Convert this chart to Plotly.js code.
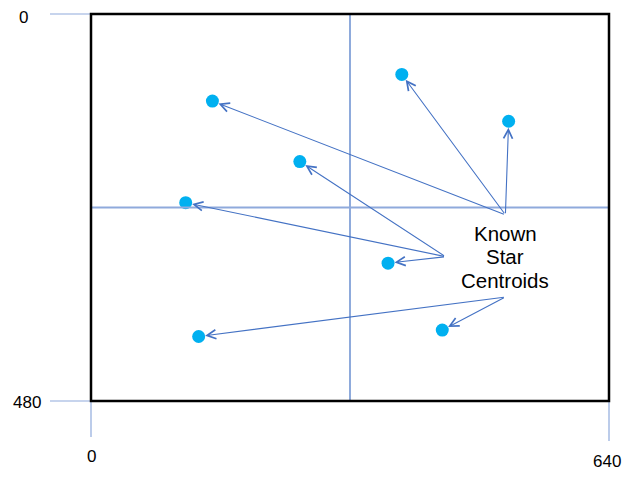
<!DOCTYPE html>
<html>
<head>
<meta charset="utf-8">
<script src="https://cdn.plot.ly/plotly-3.0.1.min.js"></script>
<style>html,body{margin:0;padding:0;background:#fff;}#chart{width:626px;height:477px;}</style>
</head>
<body>
<div id="chart"></div>
<script>
// Image frame (pixels of a 640x480 sensor)
const frameW = 640;
const frameH = 480;
const tickLabels = ['0', '480', '0', '640'];

// Known star centroids (image coordinates, y downward)
const starX = [150, 384, 516, 258, 117, 367, 434, 133];
const starY = [108, 75, 133, 183, 234, 309, 392, 400];

// Arrow origins for each star (label anchors)
const originX = [512, 512, 512, 438, 438, 438, 512, 512];
const originY = [249, 249, 249, 301, 301, 301, 351, 351];

// Crosshair at image centre
const centerX = 320;
const centerY = 240;

// Label lines
const labelLines = ['Known', 'Star', 'Centroids'];
const labelX = 512;
const labelY = [272, 301, 330];

const blue = '#4472c4';
const lightBlue = '#8faadc';
const plotW = 518, plotH = 387;

const trace = {
  x: starX, y: starY, type: 'scatter', mode: 'markers',
  marker: {size: 13, color: '#00b0f0'}, hoverinfo: 'skip', cliponaxis: false
};

const shapes = [
  {type: 'line', xref: 'x', yref: 'y', x0: centerX, x1: centerX, y0: 0, y1: frameH, line: {color: blue, width: 1.2}},
  {type: 'line', xref: 'x', yref: 'y', x0: 0, x1: frameW, y0: centerY, y1: centerY, line: {color: lightBlue, width: 2}},
  {type: 'line', xref: 'paper', yref: 'paper', x0: -41/plotW, x1: 0, y0: 1, y1: 1, line: {color: lightBlue, width: 1.2}},
  {type: 'line', xref: 'paper', yref: 'paper', x0: -41/plotW, x1: 0, y0: 0, y1: 0, line: {color: lightBlue, width: 1.2}},
  {type: 'line', xref: 'paper', yref: 'paper', x0: 0, x1: 0, y0: 0, y1: -36/plotH, line: {color: lightBlue, width: 1.2}},
  {type: 'line', xref: 'paper', yref: 'paper', x0: 1, x1: 1, y0: 0, y1: -40/plotH, line: {color: lightBlue, width: 1.2}},
  {type: 'rect', xref: 'paper', yref: 'paper', x0: 0, x1: 1, y0: 0, y1: 1, line: {color: '#000', width: 2.5}, layer: 'above'}
];

const annotations = [];
for (let i = 0; i < starX.length; i++) {
  annotations.push({
    x: starX[i], y: starY[i], xref: 'x', yref: 'y',
    ax: originX[i], ay: originY[i], axref: 'x', ayref: 'y',
    showarrow: true, arrowhead: 5, arrowsize: 1.6, arrowwidth: 1.1,
    arrowcolor: blue, standoff: 6.5, text: ''
  });
}
labelLines.forEach((t, i) => annotations.push({
  x: labelX, y: labelY[i], xref: 'x', yref: 'y', text: t, showarrow: false,
  font: {family: 'Liberation Sans, Arial, sans-serif', size: 20.5, color: '#000'},
  xanchor: 'center', yanchor: 'middle'
}));
const tickFont = {family: 'Liberation Sans, Arial, sans-serif', size: 17, color: '#000'};
annotations.push({x: 0, y: 0, xref: 'x', yref: 'y', text: tickLabels[0], showarrow: false, xshift: -68, yshift: -3, font: tickFont});
annotations.push({x: 0, y: frameH, xref: 'x', yref: 'y', text: tickLabels[1], showarrow: false, xshift: -64, yshift: -1, font: tickFont});
annotations.push({x: 0, y: frameH, xref: 'x', yref: 'y', text: tickLabels[2], showarrow: false, xshift: 0, yshift: -55, font: tickFont});
annotations.push({x: frameW, y: frameH, xref: 'x', yref: 'y', text: tickLabels[3], showarrow: false, xshift: -2, yshift: -60, font: tickFont});

const layout = {
  width: 626, height: 477,
  margin: {l: 91, r: 17, t: 14, b: 76, pad: 0},
  paper_bgcolor: '#fff', plot_bgcolor: '#fff',
  showlegend: false,
  xaxis: {range: [0, frameW], visible: false, fixedrange: true},
  yaxis: {range: [frameH, 0], visible: false, fixedrange: true},
  shapes: shapes, annotations: annotations
};

Plotly.newPlot('chart', [trace], layout, {displayModeBar: false, staticPlot: true});
</script>
</body>
</html>
